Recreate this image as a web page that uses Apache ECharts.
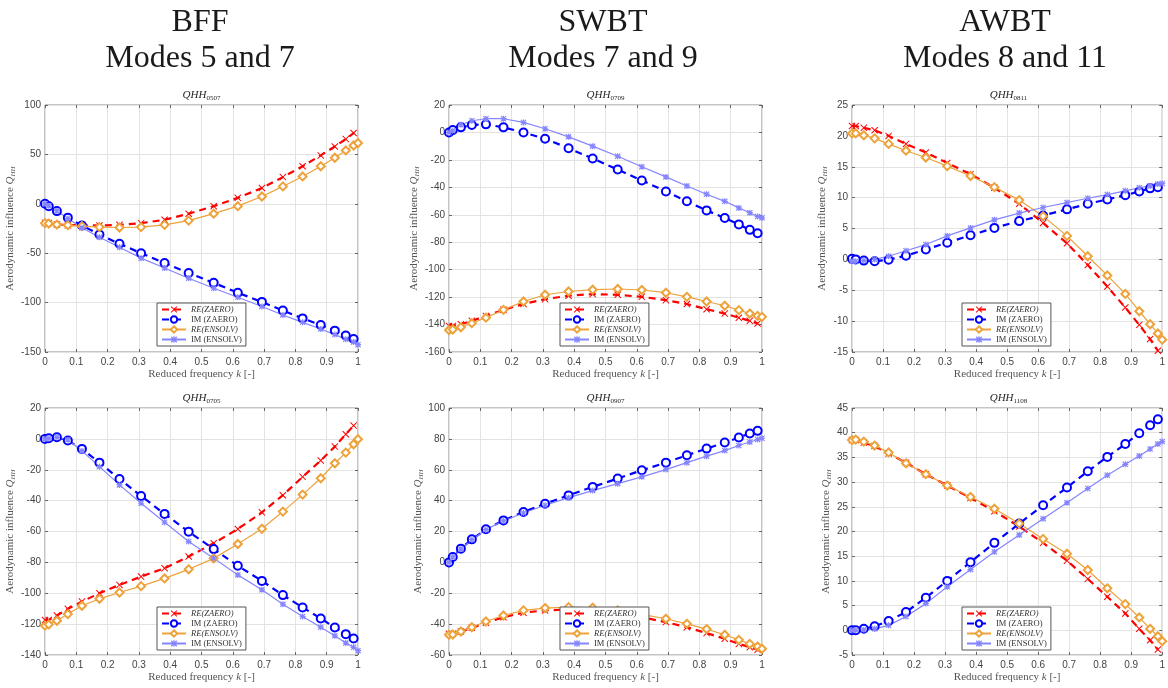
<!DOCTYPE html>
<html>
<head>
<meta charset="utf-8">
<title>QHH comparison</title>
<script src="https://cdn.jsdelivr.net/npm/echarts@6/dist/echarts.min.js"></script>
<style>
html, body { margin: 0; padding: 0; background: #fff; }
#chart { width: 1168px; height: 688px; }
</style>
</head>
<body>
<div id="chart"></div>
<script>
// reduced frequency k (ZAERO uses the first 19 points, ENSOLV all 20)
var k = [0, 0.012, 0.038, 0.073, 0.118, 0.174, 0.238, 0.307, 0.382, 0.459, 0.539, 0.616, 0.693, 0.76, 0.823, 0.881, 0.926, 0.961, 0.986, 1];

var columnTitles = ['BFF\nModes 5 and 7', 'SWBT\nModes 7 and 9', 'AWBT\nModes 8 and 11'];
var panelNames = ['0507', '0709', '0811', '0705', '0907', '1108'];
var yMin = [-150, -160, -15, -140, -60, -5];
var yMax = [100, 20, 25, 20, 100, 45];
var yStep = [50, 20, 5, 20, 20, 5];

// QHH 0507
var reZaero0507 = [-19.3, -19.5, -21, -21.6, -21.6, -22, -21.3, -19.6, -16.2, -10, -2.4, 6, 16, 27, 38, 49, 58, 65.5, 71.6];
var imZaero0507 = [0, -2.4, -7.4, -14, -22, -31, -40.5, -50, -60, -70, -80, -90, -99.3, -108, -116, -122.6, -128.4, -133.4, -136.8];
var reEnsolv0507 = [-19.6, -20, -21, -21.6, -22.6, -23.6, -24, -23.6, -21.3, -17, -10, -2.4, 7.4, 17.6, 27.7, 38, 46.6, 54, 59, 61.5];
var imEnsolv0507 = [0, -2, -7, -15, -24.3, -33.8, -44, -55, -65, -75.3, -85.5, -94.6, -104, -112.5, -120, -126.7, -132.4, -137, -140, -142.6];

// QHH 0709
var reZaero0709 = [-141, -141, -139.8, -137.3, -133.7, -129.3, -125, -121.5, -119, -117.8, -118.3, -119.8, -122.2, -125, -128.8, -132, -135, -137.3, -139.2];
var imZaero0709 = [0, 1.7, 3.7, 5.4, 5.9, 3.7, 0, -4.6, -11.5, -19, -27, -35, -43, -50.2, -56.8, -62.4, -67, -71, -73.4];
var reEnsolv0709 = [-144, -143.6, -142, -139, -135, -129.3, -123.2, -118.3, -115.9, -114.6, -114.1, -114.8, -116.8, -119.8, -123.2, -126.3, -129.5, -132, -133.7, -134.4];
var imEnsolv0709 = [0, 1.2, 5.6, 8.5, 10, 10, 7.3, 2.7, -3.2, -10, -17.3, -25, -32.4, -39, -45, -50.2, -55, -58.5, -61.2, -62.2];

// QHH 0811
var reZaero0811 = [21.6, 21.6, 21.3, 20.9, 20, 18.7, 17.3, 15.6, 13.8, 11.6, 9, 5.9, 2.6, -0.9, -4.4, -7.8, -10.6, -12.9, -14.8];
var imZaero0811 = [0.1, 0, -0.2, -0.3, -0.05, 0.6, 1.6, 2.7, 3.9, 5.1, 6.2, 7.1, 8.1, 9, 9.7, 10.4, 11, 11.5, 11.7];
var reEnsolv0811 = [20.4, 20.4, 20.1, 19.6, 18.7, 17.6, 16.5, 15.1, 13.5, 11.7, 9.6, 7, 3.8, 0.5, -2.6, -5.6, -8.4, -10.5, -12, -13];
var imEnsolv0811 = [-0.3, -0.3, -0.2, 0, 0.5, 1.4, 2.4, 3.8, 5.1, 6.4, 7.5, 8.4, 9.2, 9.9, 10.5, 11.1, 11.6, 11.9, 12.2, 12.3];

// QHH 0705
var reZaero0705 = [-117.3, -117.3, -114.4, -110.1, -105.4, -100, -94.6, -89.2, -83.8, -76.2, -67.6, -58.4, -47.6, -36.5, -24.6, -14, -5, 3, 8.6];
var imZaero0705 = [0, 0.4, 1.1, -1.1, -6.5, -15.4, -26, -37, -48.6, -60.1, -71.4, -82.2, -92, -101.2, -109.2, -116.3, -122.2, -126.5, -129.3];
var reEnsolv0705 = [-121, -120.2, -117.8, -113.5, -108.1, -103.6, -99.5, -95.4, -90.4, -84.5, -77.4, -68.1, -58.2, -47.1, -36.1, -25.5, -15.8, -8.9, -3.5, -0.2];
var imEnsolv0705 = [0, 0.2, 1, -0.6, -7.8, -18, -29.8, -41.7, -54, -66.5, -77.3, -88.1, -97.8, -107.1, -115.1, -122, -127.6, -132.3, -135, -137.2];

// QHH 0907
var reZaero0907 = [-46.3, -46.3, -44.8, -42.4, -39.1, -35.5, -32.6, -31.1, -30.5, -31, -33.3, -35.5, -38.7, -42, -45.8, -49.5, -52.8, -54.9, -56.6];
var imZaero0907 = [0, 3.5, 8.9, 14.9, 21.4, 27.2, 32.6, 38, 43.4, 48.9, 54.3, 59.7, 64.6, 69.4, 73.7, 77.6, 80.9, 83.5, 85.2];
var reEnsolv0907 = [-46.9, -46.7, -44.8, -42, -38.3, -34.4, -31.1, -29.6, -29, -29.4, -31.1, -33.7, -36.5, -39.8, -43.2, -46.9, -50.2, -52.8, -54.5, -56];
var imEnsolv0907 = [0, 3.5, 8.6, 14.7, 21.2, 27, 32, 37, 41.9, 46.5, 51, 55.4, 60.1, 64.6, 68.8, 72.4, 75.7, 78, 79.6, 80.4];

// QHH 1108
var reZaero1108 = [38.5, 38.5, 38, 37.3, 35.8, 33.9, 31.6, 29.3, 26.8, 24.1, 21, 17.7, 14.1, 10.4, 6.8, 3.4, 0.3, -2, -3.9];
var imZaero1108 = [0, 0, 0.3, 0.8, 1.9, 3.7, 6.6, 10, 13.8, 17.7, 21.6, 25.3, 28.9, 32.2, 35.1, 37.7, 39.9, 41.5, 42.7];
var reEnsolv1108 = [38.5, 38.6, 38.2, 37.4, 36, 33.8, 31.6, 29.3, 27, 24.6, 21.6, 18.5, 15.5, 12.2, 8.5, 5.3, 2.6, 0.3, -1.2, -2.2];
var imEnsolv1108 = [0, 0, 0.1, 0.3, 1, 2.8, 5.4, 8.8, 12.3, 15.9, 19.3, 22.6, 25.8, 28.7, 31.4, 33.6, 35.3, 36.7, 37.7, 38.2];

var panels = [
  [reZaero0507, imZaero0507, reEnsolv0507, imEnsolv0507],
  [reZaero0709, imZaero0709, reEnsolv0709, imEnsolv0709],
  [reZaero0811, imZaero0811, reEnsolv0811, imEnsolv0811],
  [reZaero0705, imZaero0705, reEnsolv0705, imEnsolv0705],
  [reZaero0907, imZaero0907, reEnsolv0907, imEnsolv0907],
  [reZaero1108, imZaero1108, reEnsolv1108, imEnsolv1108]
];
var seriesNames = ['RE(ZAERO)', 'IM (ZAERO)', 'RE(ENSOLV)', 'IM (ENSOLV)'];

// layout
var gridLeft = [45, 449, 852];
var gridTop = [105, 408];
var gridW = 313, gridH = 247;
var legendLeft = [157, 560, 962];
var legendTop = [303, 607];
var yNameGap = [26, 25, 23, 26, 24, 18];
var colTitleX = [195, 598, 1000];

var serif = 'Liberation Serif, Times New Roman, serif';
var sans = 'Liberation Sans, Arial, sans-serif';

var xPath = 'path://M1,0L5,4L9,0L10,1L6,5L10,9L9,10L5,6L1,10L0,9L4,5L0,1Z';
var starPath = 'path://M4,0H6V10H4Z M0,4H10V6H0Z M0,1.4L1.4,0L10,8.6L8.6,10Z M8.6,0L10,1.4L1.4,10L0,8.6Z';

var styles = [
  { color: '#ff0000', lineStyle: { type: [7, 5], width: 2.2 }, symbol: xPath, symbolSize: 7, itemStyle: { borderWidth: 0 } },
  { color: '#0000ff', lineStyle: { type: [7, 5], width: 2.2 }, symbol: 'emptyCircle', symbolSize: 8, itemStyle: { borderWidth: 2 } },
  { color: '#eda23a', lineStyle: { type: 'solid', width: 1.2 }, symbol: 'emptyDiamond', symbolSize: 8, itemStyle: { borderWidth: 1.2 } },
  { color: '#8585ff', lineStyle: { type: 'solid', width: 1.2 }, symbol: starPath, symbolSize: 6, itemStyle: { borderWidth: 0 } }
];

var grid = [], xAxis = [], yAxis = [], series = [], title = [], legend = [];

columnTitles.forEach(function (t, c) {
  title.push({
    text: t, left: colTitleX[c], top: 0, textAlign: 'center',
    textStyle: { fontFamily: serif, fontSize: 32, fontWeight: 'normal', lineHeight: 36, color: '#1a1a1a' }
  });
});

panelNames.forEach(function (p, i) {
  var row = Math.floor(i / 3), col = i % 3;
  var left = gridLeft[col], top = gridTop[row];
  grid.push({ left: left, top: top, width: gridW, height: gridH, show: true, borderColor: '#8a8a8a', borderWidth: 1 });

  title.push({
    text: '{q|QHH}{s|' + p + '}', left: left + gridW / 2, top: top - 16, textAlign: 'center', padding: 0,
    textStyle: {
      fontWeight: 'normal',
      rich: {
        q: { fontFamily: serif, fontStyle: 'italic', fontWeight: 'normal', fontSize: 11, color: '#262626', lineHeight: 13, verticalAlign: 'middle' },
        s: { fontFamily: serif, fontWeight: 'normal', fontSize: 7, color: '#262626', lineHeight: 7, verticalAlign: 'bottom' }
      }
    }
  });

  xAxis.push({
    type: 'value', gridIndex: i, min: 0, max: 1, interval: 0.1,
    name: 'Reduced frequency {i|k} [-]', nameLocation: 'middle', nameGap: 17,
    nameTextStyle: { fontFamily: serif, fontSize: 11, color: '#555', rich: { i: { fontFamily: serif, fontStyle: 'italic', fontSize: 11, color: '#555' } } },
    axisLine: { show: false, onZero: false },
    axisTick: { inside: true, length: 3, lineStyle: { color: '#666' } },
    axisLabel: { fontFamily: sans, fontSize: 10, color: '#444', margin: 5, formatter: function (v) { return String(+v.toFixed(1)); } },
    splitLine: { show: true, lineStyle: { color: '#e3e3e3', width: 1 } }
  });
  yAxis.push({
    type: 'value', gridIndex: i, min: yMin[i], max: yMax[i], interval: yStep[i],
    name: 'Aerodynamic influence {q|Q}{s|HH}', nameLocation: 'middle', nameGap: yNameGap[i],
    nameTextStyle: {
      fontFamily: serif, fontSize: 11, color: '#555',
      rich: {
        q: { fontFamily: serif, fontStyle: 'italic', fontSize: 11, color: '#555', lineHeight: 13, verticalAlign: 'middle' },
        s: { fontFamily: serif, fontStyle: 'italic', fontSize: 7, color: '#555', lineHeight: 7, verticalAlign: 'bottom' }
      }
    },
    axisLine: { show: false, onZero: false },
    axisTick: { inside: true, length: 3, lineStyle: { color: '#666' } },
    axisLabel: { fontFamily: sans, fontSize: 10, color: '#444', margin: 4 },
    splitLine: { show: true, lineStyle: { color: '#e3e3e3', width: 1 } }
  });

  panels[i].forEach(function (vals, s) {
    var st = styles[s];
    series.push({
      name: seriesNames[s], type: 'line', xAxisIndex: i, yAxisIndex: i,
      data: vals.map(function (v, j) { return [k[j], v]; }),
      color: st.color, symbol: st.symbol, symbolSize: st.symbolSize,
      showSymbol: true, showAllSymbol: true, smooth: false,
      lineStyle: Object.assign({ color: st.color }, st.lineStyle),
      itemStyle: Object.assign({ color: st.color, borderColor: st.color }, st.itemStyle),
      emphasis: { disabled: true }, silent: true
    });
  });

  legend.push({
    orient: 'vertical', left: legendLeft[col], top: legendTop[row],
    data: seriesNames, itemWidth: 24, itemHeight: 8, itemGap: 1,
    padding: [2, 4, 2, 4], backgroundColor: '#fff', borderColor: '#555', borderWidth: 1,
    selectedMode: false,
    formatter: function (name) { return name.indexOf('RE') === 0 ? '{i|' + name + '}' : '{n|' + name + '}'; },
    textStyle: {
      fontFamily: serif, fontSize: 8.5, color: '#333', lineHeight: 9,
      rich: {
        i: { fontFamily: serif, fontStyle: 'italic', fontSize: 8.5, color: '#333', lineHeight: 9 },
        n: { fontFamily: serif, fontSize: 8.5, color: '#333', lineHeight: 9 }
      }
    }
  });
});

// mirrored ticks on top and right edges
panelNames.forEach(function (p, i) {
  xAxis.push({
    type: 'value', gridIndex: i, position: 'top', min: 0, max: 1, interval: 0.1,
    axisLine: { show: false, onZero: false }, axisLabel: { show: false }, splitLine: { show: false },
    axisTick: { inside: true, length: 3, lineStyle: { color: '#666' } }
  });
  yAxis.push({
    type: 'value', gridIndex: i, position: 'right', min: yMin[i], max: yMax[i], interval: yStep[i],
    axisLine: { show: false, onZero: false }, axisLabel: { show: false }, splitLine: { show: false },
    axisTick: { inside: true, length: 3, lineStyle: { color: '#666' } }
  });
});

var myChart = echarts.init(document.getElementById('chart'));
myChart.setOption({
  backgroundColor: '#fff',
  animation: false,
  title: title,
  legend: legend,
  grid: grid,
  xAxis: xAxis,
  yAxis: yAxis,
  series: series
});
</script>
</body>
</html>
